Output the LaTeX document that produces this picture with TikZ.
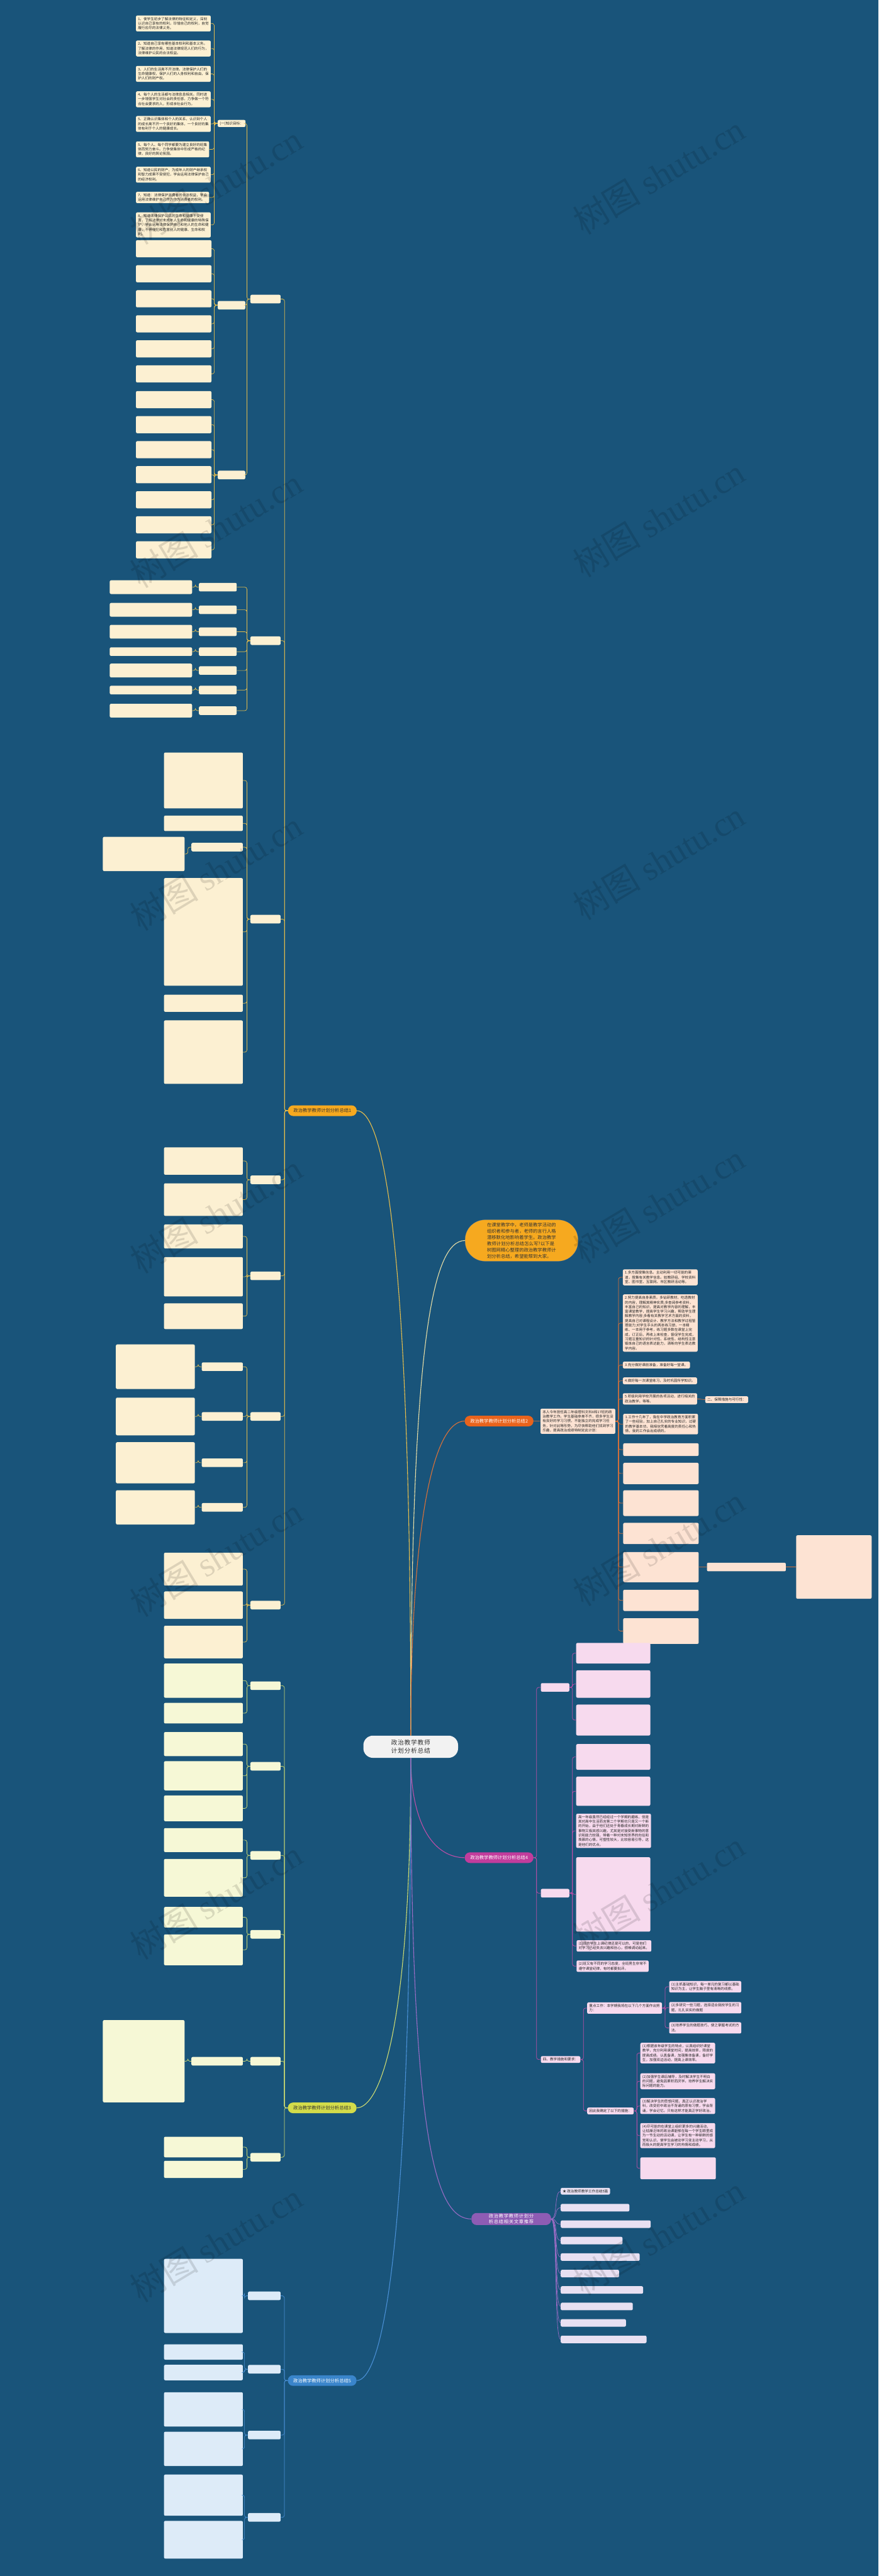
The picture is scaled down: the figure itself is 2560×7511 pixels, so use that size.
\documentclass[tikz,border=0pt]{standalone}
\usepackage{fontspec}
\usepackage{varwidth}
\newfontfamily\cjk{Noto Sans CJK SC}
\newfontfamily\wmlatin{Liberation Serif}
\XeTeXlinebreaklocale "zh"
\XeTeXlinebreakskip=0pt plus 1pt
\usetikzlibrary{positioning}

\definecolor{bg}{HTML}{19547A}
\definecolor{rootFill}{HTML}{F2F2F2}
\definecolor{introFill}{HTML}{F6A91F}
\definecolor{introLine}{HTML}{E9DFA6}
\definecolor{oneFill}{HTML}{F6A91F}
\definecolor{oneLeaf}{HTML}{FCF0D2}
\definecolor{oneLine}{HTML}{E7BE4C}
\definecolor{twoFill}{HTML}{E8631C}
\definecolor{twoLeaf}{HTML}{FDE3D3}
\definecolor{twoLine}{HTML}{DD7238}
\definecolor{threeFill}{HTML}{D3DC4A}
\definecolor{threeLeaf}{HTML}{F6F8D6}
\definecolor{threeLine}{HTML}{CFDC72}
\definecolor{fourFill}{HTML}{C23C9C}
\definecolor{fourLeaf}{HTML}{F7DAEE}
\definecolor{fourLine}{HTML}{BF4EA8}
\definecolor{fiveFill}{HTML}{3A85CB}
\definecolor{fiveLeaf}{HTML}{DDEBF8}
\definecolor{fiveLine}{HTML}{4A90D6}
\definecolor{sixFill}{HTML}{8E5CB4}
\definecolor{sixLeaf}{HTML}{E8E0F2}
\definecolor{sixLine}{HTML}{9A6CC4}

\tikzset{
  rootnode/.style={fill=rootFill, rounded corners=28pt, text width=200pt, align=center,
    inner xsep=38pt, inner ysep=12pt, text=black!80, font=\cjk\fontsize{18}{24}\selectfont},
  mainnode/.style={rounded corners=15pt, minimum height=31pt, inner xsep=16pt,
    font=\cjk\fontsize{13.4}{16}\selectfont},
  intronode/.style={fill=introFill, draw=black!45, rounded corners=58pt, text width=201pt,
    inner xsep=64pt, inner ysep=8pt, text=black!80, font=\cjk\fontsize{13.4}{18.3}\selectfont},
  leaf/.style={fill=#1, rounded corners=4pt, inner xsep=6pt, inner ysep=5pt, anchor=north west,
    text=black!85, font=\cjk\fontsize{10.3}{13.4}\selectfont,
    execute at begin node={\begin{varwidth}{208pt}\raggedright},
    execute at end node={\end{varwidth}}},
  headbox/.style={fill=#1, rounded corners=4pt, inner xsep=6pt, inner ysep=5pt,
    text=black!85, font=\cjk\fontsize{10.3}{13.4}\selectfont},
  blank/.style={fill=#1, rounded corners=4pt, inner sep=0pt, anchor=north west},
  curve/.style={draw=#1, line width=2pt},
  twig/.style={draw=#1, line width=1.3pt, rounded corners=6pt},
  wmark/.style={rotate=31, text=black, opacity=0.12, font=\cjk\fontsize{100}{100}\selectfont}
}
\newcommand{\rlink}[3]{\draw[twig=#1] (#2.east) -- ++(9,0) |- (#3.west);}
\newcommand{\llink}[3]{\draw[twig=#1] (#2.west) -- ++(-10,0) |- (#3.east);}

\begin{document}
\begin{tikzpicture}[x=1pt, y=-1pt]
\fill[bg] (0,0) rectangle (2560,7511);
\useasboundingbox (0,0) rectangle (2560,7511);

% centre and main branches
\node[rootnode] (root) at (1197,5093) {政治教学教师计划分析总结};
\node[intronode] (intro) at (1520,3617) {在课堂教学中，老师是教学活动的组织者和参与者，老师的言行人格潜移默化地影响着学生。政治教学教师计划分析总结怎么写?以下是树图网精心整理的政治教学教师计划分析总结，希望能帮到大家。};
\node[mainnode, fill=oneFill, text=black!80] (one) at (939.5,3238.5) {政治教学教师计划分析总结1};
\node[mainnode, fill=twoFill, text=white] (two) at (1454.5,4143.5) {政治教学教师计划分析总结2};
\node[mainnode, fill=threeFill, text=black!80] (three) at (939,6146) {政治教学教师计划分析总结3};
\node[mainnode, fill=fourFill, text=white] (four) at (1454.5,5416.5) {政治教学教师计划分析总结4};
\node[mainnode, fill=fiveFill, text=white] (five) at (939,6941) {政治教学教师计划分析总结5};
\node[mainnode, fill=sixFill, text=white, text width=200pt, align=center] (six) at (1490,6470) {政治教学教师计划分析总结相关文章推荐};

\draw[curve=oneLine] (root.north) .. controls (1198,3560) and (1110,3238) .. (one.east);
\draw[curve=introLine] (root.north) .. controls (1198,3900) and (1262,3617) .. (intro.west);
\draw[curve=twoLine] (root.north) .. controls (1198,4400) and (1270,4143) .. (two.west);
\draw[curve=fourLine] (root.south) .. controls (1198,5330) and (1270,5416) .. (four.west);
\draw[curve=threeLine] (root.south) .. controls (1198,5900) and (1110,6146) .. (three.east);
\draw[curve=fiveLine] (root.south) .. controls (1198,6600) and (1110,6941) .. (five.east);
\draw[curve=sixLine] (root.south) .. controls (1198,6250) and (1270,6470) .. (six.west);

% ---------- branch 1 ----------
\foreach \c/\y in {c1/872,c2/1868,c3/2680,c4/3440,c5/3720,c6/4130,c7/4680}
  {\node[blank=oneLeaf, anchor=east, minimum width=88pt, minimum height=25pt] (\c) at (818,\y) {};
   \llink{oneLine}{one}{\c}}

% knowledge goals
\node[headbox=oneLeaf] (kgoal) at (675,360) {(一)知识目标：};
\node[leaf=oneLeaf] (k1) at (396,45) {1、使学生初步了解法律的特征和定义，深刻认识自己享有的权利，珍惜自己的权利，自觉履行应尽的法律义务。};
\node[leaf=oneLeaf] (k2) at (396,118) {2、知道自己享有哪些基本权利和基本义务。了解法律的作用，知道法律规范人们的行为，法律维护公民的合法权益。};
\node[leaf=oneLeaf] (k3) at (396,192) {3、人们的生活离不开法律。法律保护人们的生命健康权，保护人们的人身权利和自由，保护人们的财产权。};
\node[leaf=oneLeaf] (k4) at (396,266) {4、每个人的生活都与法律息息相关。同时进一步增强学生对社会的责任感，力争做一个符合社会要求的人，形成亲社会行为。};
\node[leaf=oneLeaf] (k5) at (396,338) {5、正确认识集体和个人的关系，认识到个人的成长离不开一个良好的集体，一个良好的集体有利于个人的健康成长。};
\node[leaf=oneLeaf] (k6) at (396,412) {5、每个人、每个同学都要为建立良好的班集体而努力奋斗。力争使集体中形成严格的纪律，良好的舆论氛围。};
\node[leaf=oneLeaf] (k7) at (396,486) {6、知道公民的财产，为成年人的财产继承权和智力成果不受侵犯，学会运用法律保护自己的经济权利。};
\node[leaf=oneLeaf] (k8) at (396,559) {7、知道：法律保护消费者的合法权益，学会运用法律维护自己作为作为消费者的权利。};
\node[leaf=oneLeaf] (k9) at (396,619) {8、知道法律保护公民的生命和健康不受侵害，了解法律对未成年人生命和健康的特殊保护，学会运用法律保护自己和他人的生命和健康，不得侵犯和危害别人的健康、生命和权利。};
\foreach \k in {k1,k2,k3,k4,k5,k6,k7,k8,k9} {\llink{oneLine}{kgoal}{\k}}

\node[blank=oneLeaf, anchor=east, minimum width=80pt, minimum height=25pt] (kab) at (715,890) {};
\node[blank=oneLeaf, anchor=east, minimum width=80pt, minimum height=25pt] (kc) at (715,1385) {};
\foreach \p in {kgoal,kab,kc} {\llink{oneLine}{c1}{\p}}
\foreach \n/\y in {ka1/700,ka2/773,ka3/846,ka4/919,ka5/992,ka6/1065}
  {\node[blank=oneLeaf, minimum width=220pt, minimum height=50pt] (\n) at (396,\y) {}; \llink{oneLine}{kab}{\n}}
\foreach \n/\y in {kc1/1140,kc2/1213,kc3/1286,kc4/1359,kc5/1432,kc6/1505,kc7/1578}
  {\node[blank=oneLeaf, minimum width=220pt, minimum height=50pt] (\n) at (396,\y) {}; \llink{oneLine}{kc}{\n}}

% group c2
\foreach \s/\y/\h in {s1/1712/40pt,s2/1778/40pt,s3/1842/40pt,s4/1900/25pt,s5/1955/40pt,s6/2012/25pt,s7/2072/40pt}
  {\node[blank=oneLeaf, anchor=east, minimum width=110pt, minimum height=25pt] (\s) at (690,\y) {};
   \node[blank=oneLeaf, anchor=east, minimum width=240pt, minimum height=\h] (\s x) at (560,\y) {};
   \llink{oneLine}{c2}{\s}
   \llink{oneLine}{\s}{\s x}}

% group c3
\foreach \n/\y/\h in {ca/2194/163pt,cb/2378/45pt,cd/2560/314pt,ce/2900/50pt,cf/2975/185pt}
  {\node[blank=oneLeaf, anchor=north east, minimum width=230pt, minimum height=\h] (\n) at (708,\y) {}; \llink{oneLine}{c3}{\n}}
\node[blank=oneLeaf, anchor=east, minimum width=150pt, minimum height=25pt] (cl) at (708,2470) {};
\node[blank=oneLeaf, anchor=east, minimum width=238pt, minimum height=100pt] (clx) at (538,2490) {};
\llink{oneLine}{c3}{cl}
\llink{oneLine}{cl}{clx}

% groups c4, c5, c7
\foreach \n/\p/\y/\h in {da/c4/3345/80pt,db/c4/3450/95pt,dc/c5/3570/70pt,dd/c5/3665/115pt,de/c5/3800/75pt,df/c7/4527/96pt,dg/c7/4640/80pt,dh/c7/4740/95pt}
  {\node[blank=oneLeaf, anchor=north east, minimum width=230pt, minimum height=\h] (\n) at (708,\y) {}; \llink{oneLine}{\p}{\n}}

% group c6
\foreach \s/\y/\h in {t1/3985/130pt,t2/4130/110pt,t3/4265/120pt,t4/4395/100pt}
  {\node[blank=oneLeaf, anchor=east, minimum width=120pt, minimum height=25pt] (\s) at (708,\y) {};
   \node[blank=oneLeaf, anchor=east, minimum width=230pt, minimum height=\h] (\s x) at (568,\y) {};
   \llink{oneLine}{c6}{\s}
   \llink{oneLine}{\s}{\s x}}

% ---------- branch 2 ----------
\node[leaf=twoLeaf, anchor=west] (b2intro) at (1575,4144) {本人今年担任高二年级理科文科8和17班的政治教学工作。学生基础参差不齐，很多学生没有良好的学习习惯，不能独立的完成学习任务，针对此等形势，为尽快帮助他们找到学习乐趣，提高政治成绩特制定此计划：};
\draw[twig=twoLine] (two.east) -- (b2intro.west);
\node[leaf=twoLeaf] (m1) at (1815,3701) {1.多方面搜集信息。主动利用一切可能的渠道，搜集有关教学信息。如教研组、学校资料室、图书室、互联网、市区教研活动等。};
\node[leaf=twoLeaf] (m2) at (1815,3774) {2.努力提高自身素质。多钻研教材，吃透教材的内容，理解其精神实质;多查阅参考资料，丰富自己的知识，提高对教学内容的理解，丰富课堂教学，提高学生学习兴趣，帮助学生理解教学内容;多看有关教学艺术方面的资料，提高自己对课程设计、教学方法和教学过程管理能力;对学生手头的两本练习册，一本精练、一本用于参考，练习题多数在课堂上完成，订正后，再收上来检查，督促学生完成，习题注重知识的针对性、系统性、结构性注意锻炼自己的语言表达能力，清晰向学生表达教学内容。};
\node[leaf=twoLeaf] (m3) at (1815,3970) {3.充分做好课前准备，准备好每一堂课。};
\node[leaf=twoLeaf] (m4) at (1815,4016) {4.做好每一次课堂练习，及时巩固所学知识。};
\node[leaf=twoLeaf] (m5) at (1815,4062) {5.积极利用学校开展的各项活动，进行相关的政治教学。等等。};
\node[headbox=twoLeaf, anchor=west] (guard) at (2055,4081) {二、保障措施与可行性：};
\draw[twig=twoLine] (m5.east) -- (guard.west);
\node[leaf=twoLeaf] (g1) at (1816,4122) {1.工作十几年了，我在中学政治教育方面积累了一些经验，加上自己扎实的专业知识，过硬的教学基本功，我相信凭着高度的责任心和热情，我的工作会出成绩的。};
\foreach \m in {m1,m2,m3,m4,m5,g1} {\rlink{twoLine}{b2intro}{\m}}
\foreach \n/\y/\h in {g2/4208/37pt,g3/4265/62pt,g4/4345/75pt,g5/4440/62pt,g6/4525/88pt,g7/4635/62pt,g8/4718/75pt}
  {\node[blank=twoLeaf, minimum width=220pt, minimum height=\h] (\n) at (1816,\y) {}; \rlink{twoLine}{b2intro}{\n}}
\node[blank=twoLeaf, anchor=west, minimum width=230pt, minimum height=25pt] (thr) at (2060,4569) {};
\node[blank=twoLeaf, anchor=west, minimum width=220pt, minimum height=185pt] (thrx) at (2320,4569) {};
\draw[twig=twoLine] (g6.east) -- (thr.west);
\draw[twig=twoLine] (thr.east) -- (thrx.west);

% ---------- branch 3 ----------
\foreach \c/\y in {e1/4915,e2/5150,e3/5410,e4/5640,e5/6010,e6/6290}
  {\node[blank=threeLeaf, anchor=east, minimum width=88pt, minimum height=25pt] (\c) at (818,\y) {};
   \llink{threeLine}{three}{\c}}
\foreach \n/\p/\y/\h in {ea/e1/4850/100pt,eb/e1/4965/60pt,ec/e2/5050/70pt,ed/e2/5135/85pt,ee/e2/5235/75pt,ef/e3/5330/70pt,eg/e3/5420/110pt,eh/e4/5560/60pt,ei/e4/5640/90pt,ej/e6/6230/60pt,ek/e6/6300/50pt}
  {\node[blank=threeLeaf, anchor=north east, minimum width=230pt, minimum height=\h] (\n) at (708,\y) {}; \llink{threeLine}{\p}{\n}}
\node[blank=threeLeaf, anchor=east, minimum width=150pt, minimum height=25pt] (el) at (708,6010) {};
\node[blank=threeLeaf, anchor=east, minimum width=238pt, minimum height=240pt] (elx) at (538,6010) {};
\llink{threeLine}{e5}{el}
\llink{threeLine}{el}{elx}

% ---------- branch 4 ----------
\node[blank=fourLeaf, anchor=west, minimum width=83pt, minimum height=25pt] (la) at (1576,4920) {};
\node[blank=fourLeaf, anchor=west, minimum width=83pt, minimum height=25pt] (lb) at (1576,5520) {};
\foreach \n/\y/\h in {fa/4790/60pt,fb/4870/80pt,fc/4970/90pt}
  {\node[blank=fourLeaf, minimum width=216pt, minimum height=\h] (\n) at (1679,\y) {}; \rlink{fourLine}{la}{\n}}
\node[leaf=fourLeaf] (f1) at (1679,5288) {高一年级虽然已经经过一个学期的磨练，但是其对高中生活而言第二个学期也只是又一个新的开始，由于他们还处于青春成长期对新鲜的事物又极其感兴趣，尤其是对接受新事物的意识和能力较强，带着一种对未知世界的向往和羡慕的心情，可塑性较大，比较容易引导，这是他们的优点。};
\node[leaf=fourLeaf] (f3) at (1680,5657) {(1)班的学生上课纪律还是可以的，可是他们对学习已经失去兴趣和信心，很难调动起来。};
\node[leaf=fourLeaf] (f4) at (1680,5716) {(2)班又有不同的学习态度，全班男生非常不遵守课堂纪律，有时都要批评。};
\foreach \n/\y/\h in {fd/5085/75pt,fe/5180/85pt,f2/5415/217pt}
  {\node[blank=fourLeaf, minimum width=216pt, minimum height=\h] (\n) at (1679,\y) {};}
\foreach \n in {fd,fe,f1,f2,f3,f4} {\rlink{fourLine}{lb}{\n}}
\node[headbox=fourLeaf, anchor=west] (req) at (1576,6005) {四、教学措施和要求：};
\node[leaf=fourLeaf, anchor=west] (focus) at (1711,5855) {重点工作：本学期我将在以下几个方面作出努力：};
\node[leaf=fourLeaf] (p1) at (1950,5776) {(1)主抓基础知识，每一单元的复习都以基础知识为主，让学生脑子里有清晰的线索。};
\node[leaf=fourLeaf] (p2) at (1950,5837) {(2)多研究一些习题，选择适合我校学生的习题，扎扎实实的做题};
\node[leaf=fourLeaf] (p3) at (1950,5896) {(3)培养学生的做题技巧，使之掌握考试的方法。};
\foreach \p in {p1,p2,p3} {\rlink{fourLine}{focus}{\p}}
\node[headbox=fourLeaf, anchor=west] (thus) at (1711,6155) {因此我确定了以下的措施：};
\node[leaf=fourLeaf] (q1) at (1866,5956) {(1)根据该年级学生的特点，认真组织好课堂教学，充分利用课堂时间，提高效率，限度的提高成绩。认真备课，加强集体备课，备好学生，加强双边活动，提高上课效率。};
\node[leaf=fourLeaf] (q2) at (1866,6045) {(2)加强学生课后辅导，及时解决学生不明白的问题，避免因累积而厌学。培养学生解决实际问题的能力。};
\node[leaf=fourLeaf] (q3) at (1866,6117) {(3)解决学生的思想问题，真正认识政治学科，改变初中政治不背诵的原有习惯，学会背诵，学会记忆。只有这样才能真正学好政治。};
\node[leaf=fourLeaf] (q4) at (1866,6190) {(4)尽可能的在课堂上组织更多的兴趣活动，让枯燥乏味的政治课能够在每一个学生眼里成为一节生动的活动课，让学生有一种新鲜的感觉和认识，使学生由被动学习变主动学习，从而极大的提高学生学习的热情和成绩。};
\node[blank=fourLeaf, minimum width=220pt, minimum height=64pt] (q5) at (1866,6290) {};
\foreach \q in {q1,q2,q3,q4,q5} {\rlink{fourLine}{thus}{\q}}
\rlink{fourLine}{req}{focus}
\rlink{fourLine}{req}{thus}
\foreach \l in {la,lb,req} {\rlink{fourLine}{four}{\l}}

% ---------- branch 5 ----------
\foreach \c/\y in {h1/6694,h2/6908,h3/7100,h4/7340}
  {\node[blank=fiveLeaf, anchor=east, minimum width=95pt, minimum height=25pt] (\c) at (818,\y) {};
   \llink{fiveLine}{five}{\c}}
\foreach \n/\p/\y/\h in {ha/h1/6586/216pt,hb/h2/6835/45pt,hc/h2/6895/45pt,hd/h3/6975/100pt,he/h3/7090/100pt,hf/h4/7215/120pt,hg/h4/7350/110pt}
  {\node[blank=fiveLeaf, anchor=north east, minimum width=230pt, minimum height=\h] (\n) at (708,\y) {}; \llink{fiveLine}{\p}{\n}}

% ---------- related articles ----------
\node[headbox=sixLeaf, anchor=west] (r1) at (1634,6389) {★ 政治教师教学工作总结5篇};
\draw[twig=sixLine] (six.east) .. controls +(20,0) and +(-20,0) .. (r1.west);
\foreach \i/\w in {2/200pt,3/262pt,4/180pt,5/230pt,6/170pt,7/240pt,8/210pt,9/190pt,10/250pt}
  {\node[blank=sixLeaf, anchor=west, minimum width=\w, minimum height=22pt] (r\i) at (1634,6389+48*\i-48) {};
   \draw[twig=sixLine] (six.east) .. controls +(20,0) and +(-20,0) .. (r\i.west);}

% watermark over everything
\foreach \wy in {540,1540,2540,3540,4540,5540,6540}
  {\node[wmark] at (630,\wy) {树图 {\wmlatin shutu.cn}};}
\foreach \wy in {510,1510,2510,3510,4510,5515,6520}
  {\node[wmark] at (1920,\wy) {树图 {\wmlatin shutu.cn}};}
\end{tikzpicture}
\end{document}
